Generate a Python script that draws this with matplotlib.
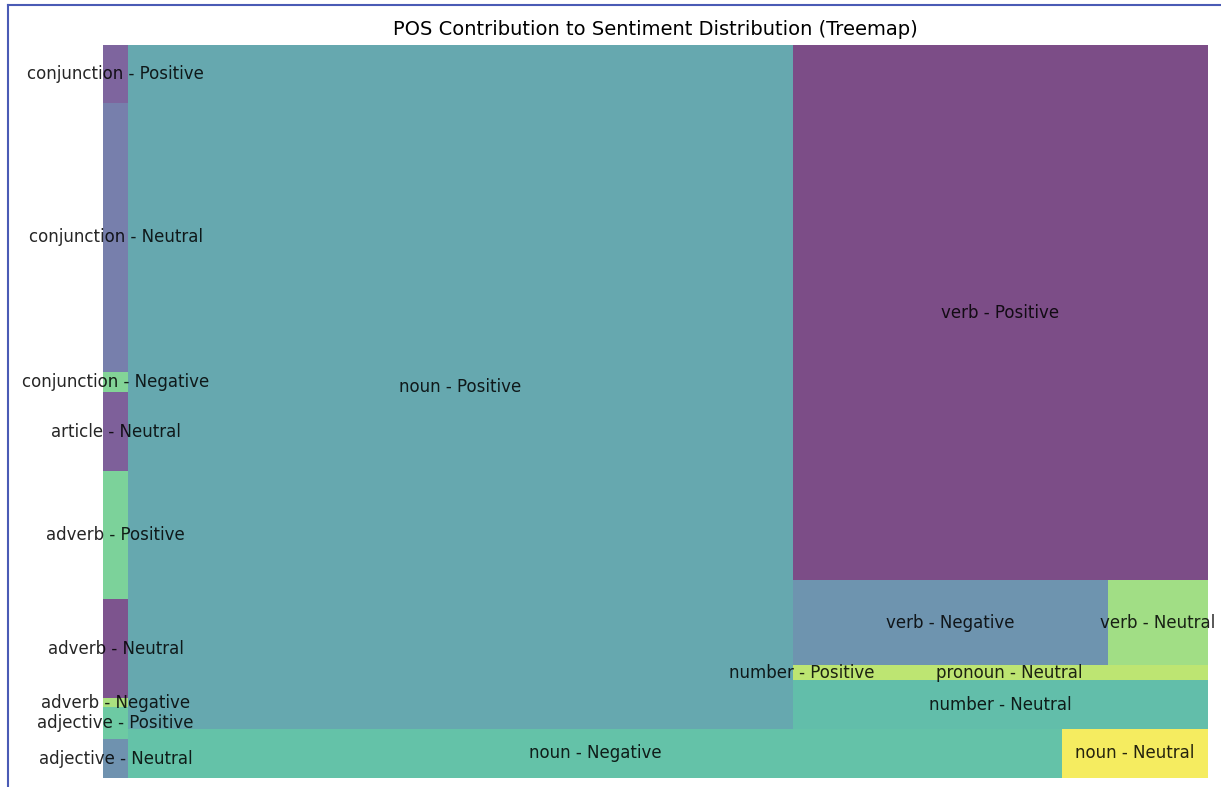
import matplotlib
matplotlib.use("Agg")
import matplotlib.pyplot as plt
from matplotlib.patches import Rectangle
from matplotlib.lines import Line2D

# ---- data ----
pos_tags = ["adjective", "adjective", "adverb", "adverb", "adverb", "article",
            "conjunction", "conjunction", "conjunction", "noun", "noun", "noun",
            "number", "number", "pronoun", "verb", "verb", "verb"]
sentiments = ["Neutral", "Positive", "Negative", "Neutral", "Positive", "Neutral",
              "Negative", "Neutral", "Positive", "Negative", "Neutral", "Positive",
              "Neutral", "Positive", "Neutral", "Negative", "Neutral", "Positive"]
counts = [39, 32, 9, 99, 128, 79, 20, 269, 58, 1831, 286, 18194,
          813, 10, 239, 1071, 340, 8881]

# colour positions on viridis for each cell (style)
cmap_pos = [0.32, 0.65, 0.82, 0.03, 0.70, 0.08, 0.72, 0.22, 0.10, 0.60, 0.98, 0.45,
            0.58, 0.86, 0.86, 0.33, 0.80, 0.00]


# ---- squarify algorithm ----
def normalize_sizes(sizes, dx, dy):
    total = float(sum(sizes))
    return [s * dx * dy / total for s in sizes]


def layoutrow(sizes, x, y, dx, dy):
    width = sum(sizes) / dy
    rects = []
    for s in sizes:
        rects.append((x, y, width, s / width))
        y += s / width
    return rects


def layoutcol(sizes, x, y, dx, dy):
    height = sum(sizes) / dx
    rects = []
    for s in sizes:
        rects.append((x, y, s / height, height))
        x += s / height
    return rects


def layout(sizes, x, y, dx, dy):
    return layoutrow(sizes, x, y, dx, dy) if dx >= dy else layoutcol(sizes, x, y, dx, dy)


def leftover(sizes, x, y, dx, dy):
    area = sum(sizes)
    if dx >= dy:
        w = area / dy
        return x + w, y, dx - w, dy
    h = area / dx
    return x, y + h, dx, dy - h


def worst_ratio(sizes, x, y, dx, dy):
    return max(max(r[2] / r[3], r[3] / r[2]) for r in layout(sizes, x, y, dx, dy))


def squarify(sizes, x, y, dx, dy):
    if len(sizes) == 0:
        return []
    if len(sizes) == 1:
        return layout(sizes, x, y, dx, dy)
    i = 1
    while i < len(sizes) and worst_ratio(sizes[:i], x, y, dx, dy) >= worst_ratio(sizes[:i + 1], x, y, dx, dy):
        i += 1
    cur, rem = sizes[:i], sizes[i:]
    lx, ly, ldx, ldy = leftover(cur, x, y, dx, dy)
    return layout(cur, x, y, dx, dy) + squarify(rem, lx, ly, ldx, ldy)


W, H = 1221, 787
fig = plt.figure(figsize=(W / 100, H / 100), dpi=100)
ax = fig.add_axes([103 / W, 1 - 778 / H, 1105 / W, 733 / H])

norm_x, norm_y = 100, 100
rects = squarify(normalize_sizes(counts, norm_x, norm_y), 0, 0, norm_x, norm_y)
cmap = plt.get_cmap("viridis")

for (x, y, dx, dy), p, s, c in zip(rects, pos_tags, sentiments, cmap_pos):
    ax.add_patch(Rectangle((x, y), dx, dy, facecolor=cmap(c), alpha=0.7, linewidth=0))
    ax.text(x + dx / 2, y + dy / 2, f"{p} - {s}", ha="center", va="center",
            fontsize=12, color="black", alpha=0.85)

ax.set_xlim(0, norm_x)
ax.set_ylim(0, norm_y)
ax.axis("off")
ax.set_title("POS Contribution to Sentiment Distribution (Treemap)", fontsize=14, pad=7)

# screenshot frame
fig.add_artist(Line2D([8 / W, 8 / W], [0, 1 - 5 / H], color="#4a5bb5", lw=1.5,
                      transform=fig.transFigure))
fig.add_artist(Line2D([8 / W, 1], [1 - 5 / H, 1 - 5 / H], color="#4a5bb5", lw=1.5,
                      transform=fig.transFigure))

fig.savefig("out.png", dpi=100)
